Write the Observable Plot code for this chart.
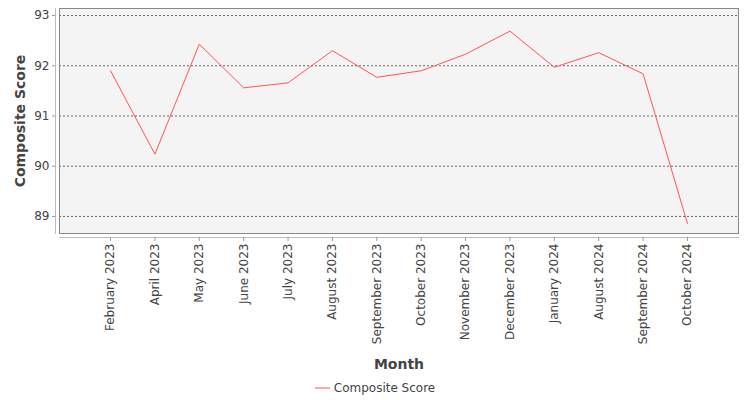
<!DOCTYPE html>
<html>
<head>
<meta charset="utf-8">
<script src="https://cdn.jsdelivr.net/npm/d3@7"></script>
<script src="https://cdn.jsdelivr.net/npm/@observablehq/plot@0.6"></script>
<style>
  body { margin: 0; background: #fff; font-family: "DejaVu Sans", sans-serif; }
  #chart { width: 750px; }
  #legend { height: 25px; display: flex; justify-content: center; align-items: center; font-size: 12px; color: #444; }
  #legend svg { margin-right: 4px; }
</style>
</head>
<body>
<div id="chart"></div>
<script>
const months = ["February 2023","April 2023","May 2023","June 2023","July 2023","August 2023","September 2023","October 2023","November 2023","December 2023","January 2024","August 2024","September 2024","October 2024"];
const scores = [91.90, 90.24, 92.43, 91.56, 91.66, 92.30, 91.77, 91.90, 92.23, 92.69, 91.97, 92.26, 91.84, 88.86];
const yTicks = [89, 90, 91, 92, 93];
const seriesName = "Composite Score";
const xTitle = "Month";
const yTitle = "Composite Score";
const lineColor = "#ff5555";

const data = months.map((m, i) => ({month: m, score: scores[i]}));

const chart = Plot.plot({
  width: 750,
  height: 375,
  marginTop: 8,
  marginBottom: 142,
  marginLeft: 59,
  marginRight: 12,
  style: {fontFamily: "DejaVu Sans", fontSize: "12px", color: "#444", background: "white"},
  x: {type: "point", domain: months, padding: 1.15, round: false},
  y: {domain: [88.66, 93.14]},
  marks: [
    Plot.frame({fill: "#f4f4f4"}),
    Plot.gridY(yTicks, {stroke: "#666", strokeOpacity: 1, strokeDasharray: "2,2"}),
    Plot.line(data, {x: "month", y: "score", stroke: lineColor, strokeWidth: 1}),
    Plot.frame({stroke: "#888"}),
    Plot.frame({anchor: "left", dx: -4, stroke: "#bbb"}),
    Plot.frame({anchor: "bottom", dy: 4, stroke: "#bbb"}),
    Plot.axisY(yTicks, {tickSize: 3, tickPadding: 3, dx: -4, stroke: "#999", fill: "#444", label: null, tickFormat: d3.format("d")}),
    Plot.axisX({tickSize: 4, dy: 4, stroke: "#999", fill: "none", label: null}),
    Plot.axisX({tickRotate: -90, tickSize: 0, tickPadding: 6, dy: 4, fill: "#444", label: null}),
    Plot.text([xTitle], {frameAnchor: "bottom", dy: 131, fontSize: 14, fontWeight: "bold", fill: "#444", lineAnchor: "middle"}),
    Plot.text([yTitle], {frameAnchor: "left", dx: -39, rotate: -90, textAnchor: "middle", fontSize: 14, fontWeight: "bold", fill: "#444"})
  ]
});
document.getElementById("chart").appendChild(chart);

const legend = document.createElement("div");
legend.id = "legend";
legend.innerHTML = `<svg width="15" height="10"><line x1="0" x2="15" y1="5" y2="5" stroke="${lineColor}" stroke-width="1"></line></svg><span>${seriesName}</span>`;
document.body.appendChild(legend);
</script>
</body>
</html>
